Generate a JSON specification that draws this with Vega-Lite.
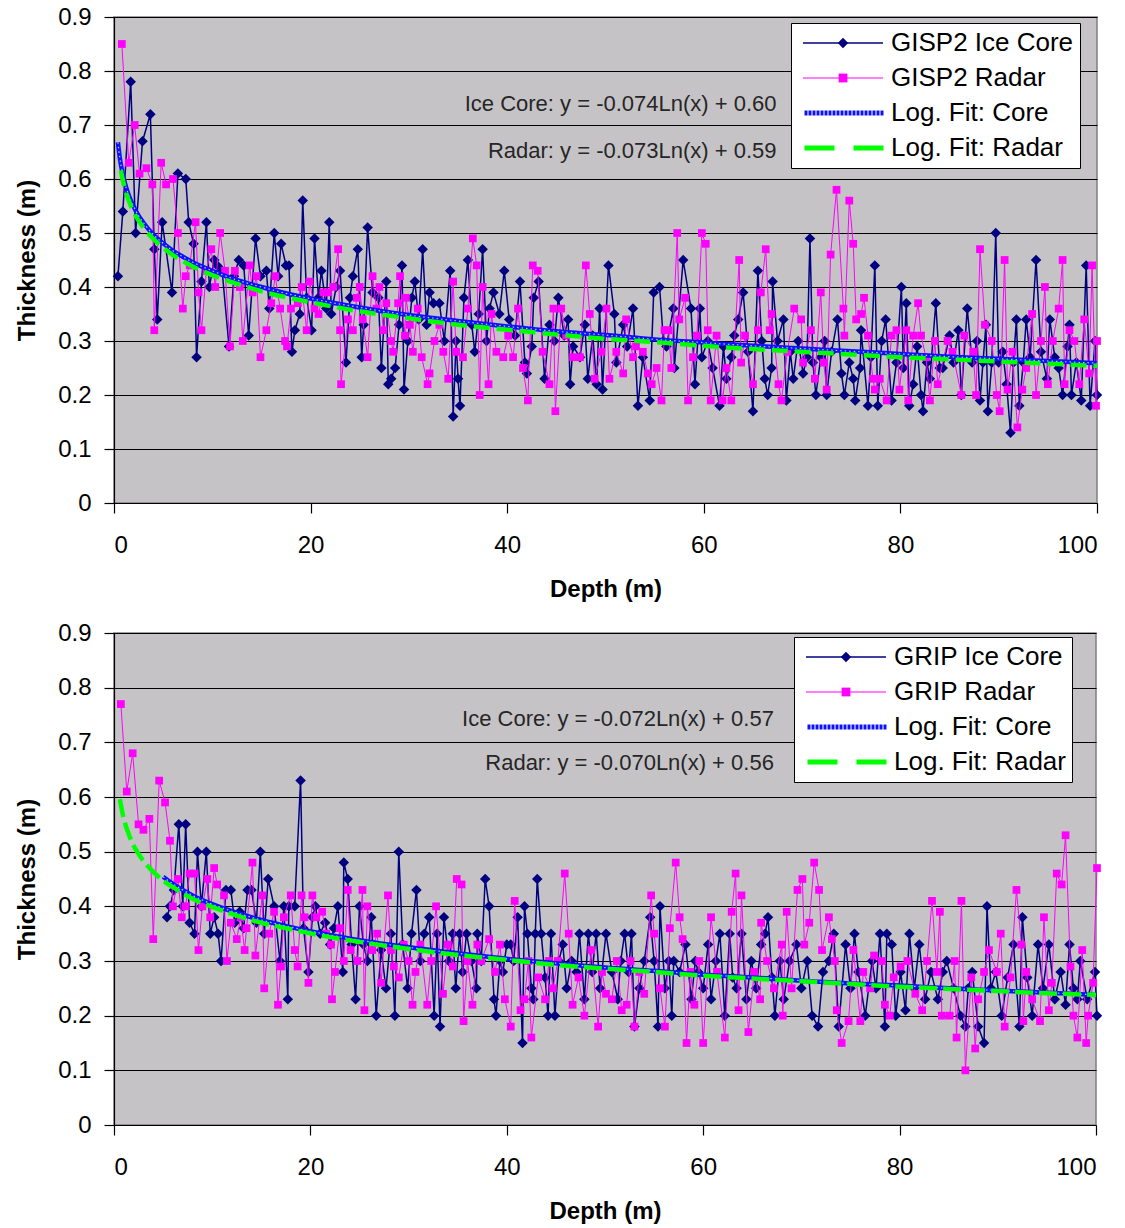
{
"$schema":"https://vega.github.io/schema/vega-lite/v6.json",
"background":"white",
"padding":{"left":14,"top":4,"right":5,"bottom":0},
"spacing":18,
"config":{
 "font":"Liberation Sans",
 "view":{"fill":"#c5c3c6","stroke":"#808080","strokeWidth":1.5},
 "axis":{"labelFont":"Liberation Sans","labelFontSize":24,"labelColor":"#000","titleFont":"Liberation Sans","titleFontSize":24,"titleFontWeight":"bold","titleColor":"#000","tickColor":"#000","tickSize":10,"tickWidth":1.2,"domainColor":"#000","domainWidth":1.2},
 "axisX":{"labelPadding":20,"titlePadding":20,"grid":false},
 "axisY":{"labelPadding":13,"titlePadding":18,"grid":true,"gridColor":"#000","gridOpacity":1,"gridWidth":1.2}
},
"datasets":{
"gIce":[{"x":0.4,"y":0.42},{"x":0.9,"y":0.54},{"x":1.7,"y":0.78},{"x":2.2,"y":0.50},{"x":2.9,"y":0.67},{"x":3.7,"y":0.72},{"x":4.1,"y":0.47},{"x":4.4,"y":0.34},{"x":4.9,"y":0.52},{"x":5.9,"y":0.39},{"x":6.5,"y":0.61},{"x":7.3,"y":0.60},{"x":7.6,"y":0.52},{"x":8.1,"y":0.48},{"x":8.4,"y":0.27},{"x":8.9,"y":0.41},{"x":9.4,"y":0.52},{"x":9.7,"y":0.40},{"x":10.2,"y":0.45},{"x":10.5,"y":0.44},{"x":11.0,"y":0.43},{"x":11.7,"y":0.29},{"x":12.2,"y":0.42},{"x":12.7,"y":0.45},{"x":13.2,"y":0.44},{"x":13.7,"y":0.31},{"x":14.4,"y":0.49},{"x":14.9,"y":0.42},{"x":15.5,"y":0.43},{"x":15.8,"y":0.36},{"x":16.3,"y":0.50},{"x":16.7,"y":0.42},{"x":17.0,"y":0.48},{"x":17.5,"y":0.44},{"x":17.8,"y":0.44},{"x":18.1,"y":0.28},{"x":18.4,"y":0.32},{"x":18.9,"y":0.35},{"x":19.2,"y":0.56},{"x":19.6,"y":0.38},{"x":20.1,"y":0.32},{"x":20.4,"y":0.49},{"x":20.8,"y":0.38},{"x":21.1,"y":0.43},{"x":21.6,"y":0.36},{"x":21.9,"y":0.52},{"x":22.1,"y":0.35},{"x":22.6,"y":0.40},{"x":23.0,"y":0.43},{"x":23.6,"y":0.26},{"x":24.0,"y":0.38},{"x":24.3,"y":0.42},{"x":24.8,"y":0.47},{"x":25.2,"y":0.27},{"x":25.4,"y":0.33},{"x":25.8,"y":0.51},{"x":26.3,"y":0.39},{"x":26.9,"y":0.38},{"x":27.2,"y":0.25},{"x":27.7,"y":0.41},{"x":27.9,"y":0.22},{"x":28.2,"y":0.23},{"x":28.6,"y":0.25},{"x":29.0,"y":0.33},{"x":29.3,"y":0.44},{"x":29.5,"y":0.21},{"x":29.9,"y":0.30},{"x":30.3,"y":0.38},{"x":30.6,"y":0.41},{"x":31.0,"y":0.34},{"x":31.4,"y":0.47},{"x":31.8,"y":0.33},{"x":32.1,"y":0.39},{"x":32.5,"y":0.37},{"x":33.1,"y":0.37},{"x":33.6,"y":0.30},{"x":34.2,"y":0.43},{"x":34.5,"y":0.16},{"x":34.8,"y":0.30},{"x":35.0,"y":0.23},{"x":35.2,"y":0.18},{"x":35.6,"y":0.38},{"x":36.0,"y":0.45},{"x":36.4,"y":0.33},{"x":36.7,"y":0.28},{"x":37.1,"y":0.35},{"x":37.5,"y":0.47},{"x":37.9,"y":0.30},{"x":38.2,"y":0.36},{"x":38.6,"y":0.39},{"x":39.2,"y":0.35},{"x":39.7,"y":0.43},{"x":40.2,"y":0.34},{"x":40.8,"y":0.31},{"x":41.3,"y":0.41},{"x":41.8,"y":0.26},{"x":42.0,"y":0.24},{"x":42.5,"y":0.29},{"x":42.7,"y":0.38},{"x":43.2,"y":0.41},{"x":43.8,"y":0.23},{"x":44.3,"y":0.33},{"x":44.8,"y":0.30},{"x":45.2,"y":0.38},{"x":45.8,"y":0.31},{"x":46.2,"y":0.34},{"x":46.4,"y":0.22},{"x":46.7,"y":0.29},{"x":47.4,"y":0.27},{"x":47.9,"y":0.33},{"x":48.2,"y":0.23},{"x":48.7,"y":0.31},{"x":49.1,"y":0.22},{"x":49.4,"y":0.36},{"x":49.7,"y":0.21},{"x":50.3,"y":0.44},{"x":50.9,"y":0.35},{"x":51.1,"y":0.26},{"x":51.8,"y":0.33},{"x":52.2,"y":0.29},{"x":52.8,"y":0.36},{"x":53.3,"y":0.18},{"x":53.8,"y":0.27},{"x":54.5,"y":0.19},{"x":54.9,"y":0.39},{"x":55.5,"y":0.40},{"x":55.9,"y":0.30},{"x":56.2,"y":0.29},{"x":56.9,"y":0.36},{"x":57.0,"y":0.25},{"x":57.9,"y":0.45},{"x":58.7,"y":0.36},{"x":59.1,"y":0.22},{"x":59.6,"y":0.36},{"x":59.8,"y":0.27},{"x":60.4,"y":0.30},{"x":60.9,"y":0.25},{"x":61.6,"y":0.18},{"x":62.0,"y":0.29},{"x":62.3,"y":0.23},{"x":62.8,"y":0.27},{"x":63.1,"y":0.31},{"x":63.5,"y":0.34},{"x":64.0,"y":0.39},{"x":64.5,"y":0.28},{"x":65.0,"y":0.17},{"x":65.5,"y":0.43},{"x":65.9,"y":0.30},{"x":66.2,"y":0.23},{"x":66.5,"y":0.20},{"x":66.9,"y":0.25},{"x":67.0,"y":0.41},{"x":67.5,"y":0.30},{"x":68.1,"y":0.34},{"x":68.4,"y":0.19},{"x":68.8,"y":0.28},{"x":69.1,"y":0.23},{"x":69.6,"y":0.30},{"x":70.1,"y":0.24},{"x":70.5,"y":0.27},{"x":70.8,"y":0.49},{"x":71.1,"y":0.26},{"x":71.4,"y":0.20},{"x":71.9,"y":0.27},{"x":72.3,"y":0.30},{"x":72.5,"y":0.20},{"x":73.0,"y":0.28},{"x":73.6,"y":0.34},{"x":74.0,"y":0.24},{"x":74.3,"y":0.20},{"x":74.8,"y":0.26},{"x":75.2,"y":0.23},{"x":75.4,"y":0.19},{"x":75.9,"y":0.25},{"x":76.0,"y":0.32},{"x":76.7,"y":0.18},{"x":77.0,"y":0.27},{"x":77.4,"y":0.44},{"x":77.7,"y":0.18},{"x":78.1,"y":0.30},{"x":78.5,"y":0.34},{"x":79.1,"y":0.19},{"x":79.6,"y":0.26},{"x":80.1,"y":0.40},{"x":80.3,"y":0.25},{"x":80.6,"y":0.37},{"x":80.9,"y":0.18},{"x":81.3,"y":0.22},{"x":81.7,"y":0.29},{"x":82.1,"y":0.20},{"x":82.3,"y":0.17},{"x":82.7,"y":0.26},{"x":83.0,"y":0.23},{"x":83.6,"y":0.37},{"x":84.0,"y":0.25},{"x":84.3,"y":0.25},{"x":85.0,"y":0.31},{"x":85.4,"y":0.26},{"x":85.9,"y":0.32},{"x":86.2,"y":0.20},{"x":86.8,"y":0.36},{"x":87.3,"y":0.26},{"x":87.8,"y":0.30},{"x":88.1,"y":0.19},{"x":88.4,"y":0.26},{"x":88.7,"y":0.33},{"x":88.9,"y":0.17},{"x":89.3,"y":0.26},{"x":89.7,"y":0.50},{"x":90.0,"y":0.26},{"x":90.4,"y":0.28},{"x":90.8,"y":0.22},{"x":91.2,"y":0.13},{"x":91.5,"y":0.26},{"x":91.8,"y":0.34},{"x":92.1,"y":0.18},{"x":92.5,"y":0.26},{"x":92.8,"y":0.34},{"x":93.2,"y":0.27},{"x":93.8,"y":0.45},{"x":94.3,"y":0.28},{"x":94.9,"y":0.23},{"x":95.2,"y":0.34},{"x":95.7,"y":0.27},{"x":96.1,"y":0.25},{"x":96.5,"y":0.20},{"x":97.0,"y":0.29},{"x":97.2,"y":0.33},{"x":97.4,"y":0.20},{"x":97.9,"y":0.26},{"x":98.4,"y":0.19},{"x":98.9,"y":0.44},{"x":99.3,"y":0.18},{"x":99.8,"y":0.30},{"x":100.0,"y":0.20}],
"gRad":[{"x":0.8,"y":0.85},{"x":1.5,"y":0.63},{"x":2.1,"y":0.70},{"x":2.6,"y":0.61},{"x":3.3,"y":0.62},{"x":3.9,"y":0.59},{"x":4.1,"y":0.32},{"x":4.8,"y":0.63},{"x":5.3,"y":0.59},{"x":6.0,"y":0.60},{"x":6.5,"y":0.50},{"x":7.0,"y":0.36},{"x":7.3,"y":0.42},{"x":7.7,"y":0.44},{"x":8.3,"y":0.52},{"x":8.6,"y":0.39},{"x":8.9,"y":0.32},{"x":9.4,"y":0.43},{"x":9.9,"y":0.47},{"x":10.3,"y":0.40},{"x":10.8,"y":0.50},{"x":11.3,"y":0.43},{"x":11.8,"y":0.29},{"x":12.3,"y":0.43},{"x":12.8,"y":0.40},{"x":13.1,"y":0.30},{"x":13.8,"y":0.44},{"x":14.1,"y":0.39},{"x":14.5,"y":0.42},{"x":14.9,"y":0.27},{"x":15.5,"y":0.32},{"x":16.0,"y":0.37},{"x":16.4,"y":0.42},{"x":16.9,"y":0.36},{"x":17.4,"y":0.30},{"x":17.6,"y":0.29},{"x":18.0,"y":0.36},{"x":18.7,"y":0.37},{"x":19.1,"y":0.40},{"x":19.6,"y":0.32},{"x":19.9,"y":0.41},{"x":20.4,"y":0.36},{"x":20.8,"y":0.35},{"x":21.3,"y":0.39},{"x":21.8,"y":0.39},{"x":22.3,"y":0.40},{"x":22.8,"y":0.47},{"x":23.0,"y":0.32},{"x":23.1,"y":0.22},{"x":23.8,"y":0.34},{"x":24.3,"y":0.32},{"x":24.7,"y":0.38},{"x":25.0,"y":0.40},{"x":25.3,"y":0.34},{"x":25.8,"y":0.27},{"x":26.3,"y":0.42},{"x":26.7,"y":0.36},{"x":27.0,"y":0.40},{"x":27.4,"y":0.32},{"x":27.7,"y":0.37},{"x":28.2,"y":0.30},{"x":28.4,"y":0.28},{"x":28.9,"y":0.37},{"x":29.1,"y":0.42},{"x":29.6,"y":0.31},{"x":29.7,"y":0.38},{"x":30.1,"y":0.33},{"x":30.4,"y":0.28},{"x":30.9,"y":0.36},{"x":31.3,"y":0.27},{"x":31.9,"y":0.22},{"x":32.1,"y":0.24},{"x":32.6,"y":0.30},{"x":33.1,"y":0.33},{"x":33.5,"y":0.28},{"x":34.0,"y":0.23},{"x":34.5,"y":0.41},{"x":34.8,"y":0.28},{"x":35.5,"y":0.27},{"x":36.0,"y":0.36},{"x":36.5,"y":0.49},{"x":36.9,"y":0.44},{"x":37.2,"y":0.20},{"x":37.5,"y":0.40},{"x":38.1,"y":0.22},{"x":38.4,"y":0.35},{"x":38.9,"y":0.28},{"x":39.6,"y":0.27},{"x":40.1,"y":0.31},{"x":40.6,"y":0.27},{"x":41.1,"y":0.36},{"x":41.6,"y":0.25},{"x":42.1,"y":0.19},{"x":42.6,"y":0.44},{"x":43.1,"y":0.43},{"x":43.6,"y":0.28},{"x":44.3,"y":0.22},{"x":44.7,"y":0.36},{"x":44.9,"y":0.17},{"x":45.5,"y":0.36},{"x":46.0,"y":0.31},{"x":46.7,"y":0.27},{"x":47.4,"y":0.27},{"x":48.0,"y":0.44},{"x":48.4,"y":0.35},{"x":48.9,"y":0.23},{"x":49.6,"y":0.28},{"x":50.1,"y":0.36},{"x":50.4,"y":0.23},{"x":51.1,"y":0.28},{"x":51.8,"y":0.24},{"x":52.1,"y":0.34},{"x":52.8,"y":0.27},{"x":53.1,"y":0.29},{"x":53.8,"y":0.28},{"x":54.3,"y":0.24},{"x":54.7,"y":0.22},{"x":55.2,"y":0.25},{"x":55.7,"y":0.19},{"x":56.0,"y":0.32},{"x":56.4,"y":0.32},{"x":56.7,"y":0.25},{"x":57.3,"y":0.50},{"x":57.5,"y":0.34},{"x":58.1,"y":0.38},{"x":58.4,"y":0.19},{"x":58.9,"y":0.27},{"x":59.3,"y":0.31},{"x":59.8,"y":0.50},{"x":60.2,"y":0.48},{"x":60.4,"y":0.32},{"x":60.7,"y":0.19},{"x":61.3,"y":0.31},{"x":61.9,"y":0.19},{"x":62.3,"y":0.25},{"x":62.8,"y":0.19},{"x":63.6,"y":0.45},{"x":63.8,"y":0.26},{"x":64.2,"y":0.31},{"x":65.0,"y":0.22},{"x":65.5,"y":0.32},{"x":65.8,"y":0.39},{"x":66.3,"y":0.47},{"x":66.7,"y":0.32},{"x":66.9,"y":0.35},{"x":67.6,"y":0.22},{"x":67.9,"y":0.19},{"x":68.5,"y":0.28},{"x":69.2,"y":0.36},{"x":69.9,"y":0.34},{"x":70.1,"y":0.26},{"x":70.9,"y":0.32},{"x":71.3,"y":0.23},{"x":71.9,"y":0.39},{"x":72.2,"y":0.26},{"x":72.5,"y":0.21},{"x":72.9,"y":0.46},{"x":73.5,"y":0.58},{"x":74.2,"y":0.36},{"x":74.3,"y":0.31},{"x":74.8,"y":0.56},{"x":75.2,"y":0.48},{"x":75.5,"y":0.34},{"x":76.0,"y":0.35},{"x":76.3,"y":0.38},{"x":76.7,"y":0.31},{"x":77.2,"y":0.23},{"x":77.4,"y":0.21},{"x":77.9,"y":0.23},{"x":78.6,"y":0.19},{"x":79.1,"y":0.31},{"x":79.6,"y":0.32},{"x":79.9,"y":0.21},{"x":80.6,"y":0.32},{"x":80.8,"y":0.19},{"x":81.3,"y":0.31},{"x":81.8,"y":0.37},{"x":82.1,"y":0.31},{"x":82.6,"y":0.27},{"x":83.0,"y":0.19},{"x":83.5,"y":0.30},{"x":83.8,"y":0.22},{"x":84.8,"y":0.30},{"x":85.3,"y":0.28},{"x":86.2,"y":0.20},{"x":86.5,"y":0.31},{"x":87.4,"y":0.28},{"x":87.7,"y":0.20},{"x":88.1,"y":0.47},{"x":88.6,"y":0.33},{"x":89.3,"y":0.30},{"x":89.8,"y":0.20},{"x":90.1,"y":0.17},{"x":90.6,"y":0.45},{"x":90.9,"y":0.21},{"x":91.4,"y":0.28},{"x":91.9,"y":0.14},{"x":92.4,"y":0.21},{"x":92.8,"y":0.25},{"x":93.4,"y":0.35},{"x":93.8,"y":0.20},{"x":94.3,"y":0.30},{"x":94.7,"y":0.40},{"x":95.0,"y":0.22},{"x":95.5,"y":0.30},{"x":96.1,"y":0.36},{"x":96.5,"y":0.45},{"x":96.7,"y":0.22},{"x":97.2,"y":0.32},{"x":97.7,"y":0.30},{"x":98.2,"y":0.22},{"x":98.7,"y":0.34},{"x":99.2,"y":0.24},{"x":99.5,"y":0.44},{"x":99.9,"y":0.18},{"x":100.0,"y":0.30}],
"gCoreFit":[{"x":0.4,"y":0.668},{"x":0.6,"y":0.638},{"x":0.8,"y":0.617},{"x":1,"y":0.600},{"x":1.5,"y":0.570},{"x":2,"y":0.549},{"x":2.5,"y":0.532},{"x":3,"y":0.519},{"x":4,"y":0.497},{"x":5,"y":0.481},{"x":6,"y":0.467},{"x":7,"y":0.456},{"x":8,"y":0.446},{"x":10,"y":0.430},{"x":12,"y":0.416},{"x":15,"y":0.400},{"x":18,"y":0.386},{"x":21,"y":0.375},{"x":25,"y":0.362},{"x":30,"y":0.348},{"x":35,"y":0.337},{"x":40,"y":0.327},{"x":45,"y":0.318},{"x":50,"y":0.311},{"x":55,"y":0.303},{"x":60,"y":0.297},{"x":65,"y":0.291},{"x":70,"y":0.286},{"x":75,"y":0.281},{"x":80,"y":0.276},{"x":85,"y":0.271},{"x":90,"y":0.267},{"x":95,"y":0.263},{"x":100,"y":0.259}],
"gRadFit":[{"x":0.7,"y":0.616},{"x":0.8,"y":0.606},{"x":1,"y":0.590},{"x":1.5,"y":0.560},{"x":2,"y":0.539},{"x":2.5,"y":0.523},{"x":3,"y":0.510},{"x":4,"y":0.489},{"x":5,"y":0.473},{"x":6,"y":0.459},{"x":7,"y":0.448},{"x":8,"y":0.438},{"x":10,"y":0.422},{"x":12,"y":0.409},{"x":15,"y":0.392},{"x":18,"y":0.379},{"x":21,"y":0.368},{"x":25,"y":0.355},{"x":30,"y":0.342},{"x":35,"y":0.330},{"x":40,"y":0.321},{"x":45,"y":0.312},{"x":50,"y":0.304},{"x":55,"y":0.298},{"x":60,"y":0.291},{"x":65,"y":0.285},{"x":70,"y":0.280},{"x":75,"y":0.275},{"x":80,"y":0.270},{"x":85,"y":0.266},{"x":90,"y":0.262},{"x":95,"y":0.258},{"x":100,"y":0.254}],
"gAnno":[{"x":67.4,"y":0.738,"t":"Ice Core: y = -0.074Ln(x) + 0.60"},{"x":67.4,"y":0.651,"t":"Radar: y = -0.073Ln(x) + 0.59"}],
"rIce":[{"x":5.4,"y":0.38},{"x":5.7,"y":0.40},{"x":6.1,"y":0.43},{"x":6.6,"y":0.55},{"x":7.0,"y":0.40},{"x":7.3,"y":0.55},{"x":7.7,"y":0.37},{"x":8.2,"y":0.35},{"x":8.5,"y":0.50},{"x":8.9,"y":0.40},{"x":9.4,"y":0.50},{"x":9.8,"y":0.35},{"x":10.2,"y":0.38},{"x":10.6,"y":0.35},{"x":10.9,"y":0.30},{"x":11.4,"y":0.43},{"x":11.9,"y":0.43},{"x":12.3,"y":0.37},{"x":12.8,"y":0.39},{"x":13.2,"y":0.36},{"x":13.6,"y":0.43},{"x":14.0,"y":0.43},{"x":14.5,"y":0.37},{"x":14.9,"y":0.50},{"x":15.3,"y":0.35},{"x":15.7,"y":0.45},{"x":16.3,"y":0.40},{"x":16.9,"y":0.30},{"x":17.3,"y":0.40},{"x":17.7,"y":0.23},{"x":17.8,"y":0.40},{"x":18.4,"y":0.40},{"x":19.0,"y":0.63},{"x":19.3,"y":0.36},{"x":19.8,"y":0.28},{"x":20.2,"y":0.38},{"x":20.5,"y":0.40},{"x":21.0,"y":0.35},{"x":21.5,"y":0.37},{"x":22.0,"y":0.33},{"x":22.4,"y":0.36},{"x":22.8,"y":0.40},{"x":23.3,"y":0.28},{"x":23.4,"y":0.48},{"x":23.8,"y":0.45},{"x":24.2,"y":0.33},{"x":24.6,"y":0.23},{"x":25.0,"y":0.40},{"x":25.4,"y":0.33},{"x":25.8,"y":0.30},{"x":26.2,"y":0.38},{"x":26.7,"y":0.20},{"x":27.2,"y":0.32},{"x":27.7,"y":0.25},{"x":28.2,"y":0.35},{"x":28.6,"y":0.20},{"x":29.0,"y":0.50},{"x":29.4,"y":0.33},{"x":29.9,"y":0.25},{"x":30.3,"y":0.35},{"x":30.8,"y":0.43},{"x":31.2,"y":0.30},{"x":31.6,"y":0.35},{"x":32.1,"y":0.38},{"x":32.6,"y":0.20},{"x":32.9,"y":0.35},{"x":33.2,"y":0.18},{"x":33.6,"y":0.38},{"x":34.1,"y":0.30},{"x":34.5,"y":0.35},{"x":34.8,"y":0.25},{"x":35.2,"y":0.35},{"x":35.5,"y":0.28},{"x":35.9,"y":0.35},{"x":36.4,"y":0.30},{"x":36.9,"y":0.25},{"x":37.0,"y":0.35},{"x":37.4,"y":0.30},{"x":37.8,"y":0.45},{"x":38.2,"y":0.40},{"x":38.7,"y":0.23},{"x":38.9,"y":0.20},{"x":39.3,"y":0.30},{"x":39.6,"y":0.28},{"x":40.0,"y":0.33},{"x":40.4,"y":0.33},{"x":40.7,"y":0.30},{"x":41.1,"y":0.38},{"x":41.6,"y":0.15},{"x":41.8,"y":0.40},{"x":42.1,"y":0.35},{"x":42.5,"y":0.25},{"x":42.7,"y":0.23},{"x":42.9,"y":0.35},{"x":43.1,"y":0.45},{"x":43.5,"y":0.35},{"x":43.9,"y":0.27},{"x":44.2,"y":0.20},{"x":44.5,"y":0.35},{"x":44.9,"y":0.20},{"x":45.3,"y":0.30},{"x":45.7,"y":0.33},{"x":46.1,"y":0.25},{"x":46.6,"y":0.30},{"x":47.1,"y":0.28},{"x":47.4,"y":0.35},{"x":47.9,"y":0.23},{"x":48.3,"y":0.35},{"x":48.7,"y":0.28},{"x":49.1,"y":0.35},{"x":49.5,"y":0.25},{"x":50.1,"y":0.35},{"x":50.7,"y":0.28},{"x":51.3,"y":0.23},{"x":51.6,"y":0.30},{"x":52.0,"y":0.35},{"x":52.4,"y":0.28},{"x":52.7,"y":0.35},{"x":53.0,"y":0.18},{"x":53.5,"y":0.25},{"x":54.0,"y":0.30},{"x":54.6,"y":0.38},{"x":55.0,"y":0.30},{"x":55.4,"y":0.18},{"x":55.6,"y":0.40},{"x":56.1,"y":0.25},{"x":56.5,"y":0.30},{"x":56.8,"y":0.20},{"x":57.0,"y":0.30},{"x":57.6,"y":0.28},{"x":58.2,"y":0.33},{"x":58.8,"y":0.23},{"x":59.2,"y":0.30},{"x":59.5,"y":0.28},{"x":60.0,"y":0.25},{"x":60.5,"y":0.33},{"x":60.8,"y":0.23},{"x":61.3,"y":0.30},{"x":61.7,"y":0.35},{"x":62.2,"y":0.20},{"x":62.7,"y":0.35},{"x":63.0,"y":0.27},{"x":63.4,"y":0.25},{"x":63.9,"y":0.35},{"x":64.4,"y":0.23},{"x":64.9,"y":0.30},{"x":65.4,"y":0.25},{"x":65.9,"y":0.33},{"x":66.3,"y":0.35},{"x":66.6,"y":0.38},{"x":67.0,"y":0.27},{"x":67.3,"y":0.20},{"x":67.8,"y":0.30},{"x":68.2,"y":0.23},{"x":68.8,"y":0.30},{"x":69.5,"y":0.33},{"x":70.0,"y":0.25},{"x":70.6,"y":0.30},{"x":71.1,"y":0.20},{"x":71.7,"y":0.18},{"x":72.2,"y":0.28},{"x":72.8,"y":0.30},{"x":73.3,"y":0.35},{"x":73.8,"y":0.18},{"x":74.5,"y":0.33},{"x":75.0,"y":0.25},{"x":75.4,"y":0.35},{"x":75.8,"y":0.28},{"x":76.5,"y":0.20},{"x":77.2,"y":0.30},{"x":77.6,"y":0.25},{"x":78.0,"y":0.35},{"x":78.5,"y":0.18},{"x":78.7,"y":0.35},{"x":79.2,"y":0.33},{"x":79.6,"y":0.20},{"x":80.1,"y":0.28},{"x":80.6,"y":0.21},{"x":81.0,"y":0.35},{"x":81.5,"y":0.25},{"x":82.0,"y":0.33},{"x":82.6,"y":0.23},{"x":83.2,"y":0.28},{"x":83.9,"y":0.23},{"x":84.4,"y":0.28},{"x":84.8,"y":0.30},{"x":85.5,"y":0.25},{"x":86.2,"y":0.20},{"x":86.7,"y":0.18},{"x":87.0,"y":0.25},{"x":87.4,"y":0.28},{"x":88.0,"y":0.18},{"x":88.6,"y":0.15},{"x":88.9,"y":0.40},{"x":89.3,"y":0.25},{"x":89.8,"y":0.28},{"x":90.4,"y":0.20},{"x":91.0,"y":0.27},{"x":91.6,"y":0.33},{"x":92.2,"y":0.18},{"x":92.5,"y":0.38},{"x":93.0,"y":0.27},{"x":93.5,"y":0.20},{"x":94.1,"y":0.33},{"x":94.6,"y":0.25},{"x":95.2,"y":0.33},{"x":95.8,"y":0.23},{"x":96.4,"y":0.28},{"x":96.9,"y":0.22},{"x":97.3,"y":0.33},{"x":97.7,"y":0.25},{"x":98.1,"y":0.23},{"x":98.4,"y":0.30},{"x":99.1,"y":0.23},{"x":99.9,"y":0.28},{"x":100.1,"y":0.20}],
"rRad":[{"x":0.7,"y":0.77},{"x":1.3,"y":0.61},{"x":1.9,"y":0.68},{"x":2.5,"y":0.55},{"x":3.0,"y":0.54},{"x":3.6,"y":0.56},{"x":4.0,"y":0.34},{"x":4.6,"y":0.63},{"x":5.2,"y":0.59},{"x":5.7,"y":0.52},{"x":6.0,"y":0.40},{"x":6.5,"y":0.45},{"x":6.9,"y":0.38},{"x":7.3,"y":0.40},{"x":7.7,"y":0.46},{"x":8.2,"y":0.46},{"x":8.6,"y":0.32},{"x":9.0,"y":0.40},{"x":9.5,"y":0.45},{"x":9.8,"y":0.38},{"x":10.2,"y":0.47},{"x":10.5,"y":0.44},{"x":11.2,"y":0.42},{"x":11.5,"y":0.30},{"x":11.9,"y":0.37},{"x":12.5,"y":0.34},{"x":12.9,"y":0.38},{"x":13.3,"y":0.32},{"x":13.5,"y":0.36},{"x":14.1,"y":0.48},{"x":14.4,"y":0.31},{"x":15.1,"y":0.42},{"x":15.3,"y":0.25},{"x":15.8,"y":0.35},{"x":16.3,"y":0.39},{"x":16.7,"y":0.22},{"x":17.0,"y":0.29},{"x":17.3,"y":0.38},{"x":18.0,"y":0.42},{"x":18.4,"y":0.32},{"x":18.7,"y":0.29},{"x":19.1,"y":0.42},{"x":19.4,"y":0.38},{"x":19.8,"y":0.26},{"x":20.2,"y":0.42},{"x":20.6,"y":0.38},{"x":21.2,"y":0.39},{"x":21.6,"y":0.35},{"x":22.1,"y":0.33},{"x":22.2,"y":0.23},{"x":22.5,"y":0.28},{"x":23.0,"y":0.36},{"x":23.4,"y":0.30},{"x":23.8,"y":0.43},{"x":24.1,"y":0.32},{"x":24.8,"y":0.30},{"x":25.3,"y":0.43},{"x":25.5,"y":0.21},{"x":25.8,"y":0.40},{"x":26.3,"y":0.32},{"x":26.8,"y":0.35},{"x":27.2,"y":0.26},{"x":27.9,"y":0.42},{"x":28.2,"y":0.32},{"x":28.5,"y":0.29},{"x":29.0,"y":0.27},{"x":29.5,"y":0.33},{"x":30.0,"y":0.30},{"x":30.4,"y":0.22},{"x":30.7,"y":0.28},{"x":31.2,"y":0.33},{"x":31.9,"y":0.22},{"x":32.3,"y":0.30},{"x":32.8,"y":0.40},{"x":33.5,"y":0.24},{"x":34.0,"y":0.33},{"x":34.5,"y":0.29},{"x":34.9,"y":0.45},{"x":35.4,"y":0.44},{"x":35.6,"y":0.19},{"x":36.0,"y":0.30},{"x":36.5,"y":0.22},{"x":37.0,"y":0.33},{"x":37.4,"y":0.30},{"x":38.2,"y":0.34},{"x":38.8,"y":0.28},{"x":39.3,"y":0.33},{"x":39.8,"y":0.23},{"x":40.4,"y":0.18},{"x":40.8,"y":0.41},{"x":41.4,"y":0.21},{"x":41.8,"y":0.23},{"x":42.2,"y":0.30},{"x":42.5,"y":0.16},{"x":43.2,"y":0.27},{"x":43.9,"y":0.23},{"x":44.3,"y":0.30},{"x":44.7,"y":0.25},{"x":45.2,"y":0.30},{"x":45.9,"y":0.46},{"x":46.3,"y":0.35},{"x":46.7,"y":0.22},{"x":47.3,"y":0.27},{"x":47.9,"y":0.20},{"x":48.6,"y":0.32},{"x":49.3,"y":0.18},{"x":49.7,"y":0.28},{"x":50.1,"y":0.24},{"x":50.7,"y":0.23},{"x":51.2,"y":0.30},{"x":51.7,"y":0.21},{"x":52.2,"y":0.22},{"x":52.6,"y":0.30},{"x":53.0,"y":0.18},{"x":53.5,"y":0.28},{"x":54.0,"y":0.24},{"x":54.7,"y":0.42},{"x":55.0,"y":0.35},{"x":55.6,"y":0.25},{"x":56.1,"y":0.18},{"x":56.6,"y":0.36},{"x":57.2,"y":0.48},{"x":57.6,"y":0.38},{"x":57.9,"y":0.34},{"x":58.3,"y":0.15},{"x":58.7,"y":0.28},{"x":59.1,"y":0.22},{"x":59.6,"y":0.30},{"x":60.0,"y":0.15},{"x":60.8,"y":0.38},{"x":61.4,"y":0.28},{"x":62.2,"y":0.16},{"x":62.9,"y":0.39},{"x":63.3,"y":0.46},{"x":63.6,"y":0.21},{"x":63.9,"y":0.42},{"x":64.6,"y":0.17},{"x":65.2,"y":0.28},{"x":65.8,"y":0.23},{"x":65.9,"y":0.37},{"x":66.5,"y":0.30},{"x":67.2,"y":0.25},{"x":68.0,"y":0.33},{"x":68.1,"y":0.20},{"x":68.5,"y":0.39},{"x":69.0,"y":0.25},{"x":69.6,"y":0.43},{"x":70.1,"y":0.45},{"x":70.3,"y":0.33},{"x":70.8,"y":0.37},{"x":71.3,"y":0.48},{"x":71.8,"y":0.43},{"x":72.1,"y":0.32},{"x":72.8,"y":0.38},{"x":73.1,"y":0.34},{"x":73.4,"y":0.30},{"x":73.6,"y":0.21},{"x":74.1,"y":0.15},{"x":74.8,"y":0.19},{"x":75.3,"y":0.32},{"x":76.0,"y":0.19},{"x":76.3,"y":0.28},{"x":77.0,"y":0.25},{"x":77.4,"y":0.31},{"x":78.2,"y":0.30},{"x":78.5,"y":0.22},{"x":79.0,"y":0.20},{"x":79.4,"y":0.27},{"x":80.1,"y":0.29},{"x":80.8,"y":0.30},{"x":81.6,"y":0.24},{"x":82.3,"y":0.21},{"x":82.8,"y":0.30},{"x":83.3,"y":0.41},{"x":83.8,"y":0.28},{"x":84.1,"y":0.39},{"x":84.3,"y":0.20},{"x":85.1,"y":0.20},{"x":85.6,"y":0.30},{"x":85.8,"y":0.16},{"x":86.3,"y":0.41},{"x":86.7,"y":0.10},{"x":87.3,"y":0.27},{"x":87.7,"y":0.14},{"x":88.0,"y":0.23},{"x":88.6,"y":0.28},{"x":89.1,"y":0.32},{"x":89.9,"y":0.28},{"x":90.3,"y":0.35},{"x":90.7,"y":0.18},{"x":91.3,"y":0.27},{"x":91.9,"y":0.43},{"x":92.4,"y":0.33},{"x":92.6,"y":0.19},{"x":92.9,"y":0.28},{"x":93.5,"y":0.23},{"x":94.3,"y":0.19},{"x":94.7,"y":0.38},{"x":95.2,"y":0.21},{"x":95.5,"y":0.26},{"x":96.0,"y":0.46},{"x":96.5,"y":0.44},{"x":96.9,"y":0.53},{"x":97.4,"y":0.29},{"x":97.7,"y":0.20},{"x":98.1,"y":0.16},{"x":98.6,"y":0.32},{"x":99.0,"y":0.15},{"x":99.2,"y":0.20},{"x":99.7,"y":0.26},{"x":100.1,"y":0.47}],
"rCoreFit":[{"x":5,"y":0.454},{"x":6,"y":0.441},{"x":7,"y":0.430},{"x":8,"y":0.420},{"x":10,"y":0.404},{"x":12,"y":0.391},{"x":15,"y":0.375},{"x":18,"y":0.362},{"x":21,"y":0.351},{"x":25,"y":0.338},{"x":30,"y":0.325},{"x":35,"y":0.314},{"x":40,"y":0.304},{"x":45,"y":0.296},{"x":50,"y":0.288},{"x":55,"y":0.282},{"x":60,"y":0.275},{"x":65,"y":0.270},{"x":70,"y":0.264},{"x":75,"y":0.259},{"x":80,"y":0.255},{"x":85,"y":0.250},{"x":90,"y":0.246},{"x":95,"y":0.242},{"x":100,"y":0.238}],
"rRadFit":[{"x":0.6,"y":0.596},{"x":0.8,"y":0.576},{"x":1,"y":0.560},{"x":1.5,"y":0.532},{"x":2,"y":0.511},{"x":2.5,"y":0.496},{"x":3,"y":0.483},{"x":4,"y":0.463},{"x":5,"y":0.447},{"x":6,"y":0.435},{"x":7,"y":0.424},{"x":8,"y":0.414},{"x":10,"y":0.399},{"x":12,"y":0.386},{"x":15,"y":0.370},{"x":18,"y":0.358},{"x":21,"y":0.347},{"x":25,"y":0.335},{"x":30,"y":0.322},{"x":35,"y":0.311},{"x":40,"y":0.302},{"x":45,"y":0.293},{"x":50,"y":0.286},{"x":55,"y":0.280},{"x":60,"y":0.273},{"x":65,"y":0.268},{"x":70,"y":0.263},{"x":75,"y":0.258},{"x":80,"y":0.253},{"x":85,"y":0.249},{"x":90,"y":0.245},{"x":95,"y":0.241},{"x":100,"y":0.238}],
"rAnno":[{"x":67.2,"y":0.742,"t":"Ice Core: y = -0.072Ln(x) + 0.57"},{"x":67.2,"y":0.663,"t":"Radar: y = -0.070Ln(x) + 0.56"}]
},
"vconcat":[
{
 "width":983,"height":486,
 "encoding":{
  "x":{"field":"x","type":"quantitative","scale":{"domain":[0,100],"nice":false,"zero":false},"axis":{"values":[0,20,40,60,80,100],"title":"Depth (m)"}},
  "y":{"field":"y","type":"quantitative","scale":{"domain":[0,0.9],"nice":false},"axis":{"values":[0,0.1,0.2,0.3,0.4,0.5,0.6,0.7,0.8,0.9],"format":".1~f","title":"Thickness (m)"}}
 },
 "resolve":{"scale":{"shape":"independent"}},
 "layer":[
  {"data":{"name":"gIce"},"mark":{"type":"line","color":"#000080","strokeWidth":1.5}},
  {"data":{"name":"gIce"},"mark":{"type":"point","shape":"diamond","filled":true,"color":"#000080","opacity":1,"size":110}},
  {"data":{"name":"gRad"},"mark":{"type":"line","color":"#ff00ff","strokeWidth":1}},
  {"data":{"name":"gRad"},"mark":{"type":"point","shape":"square","filled":true,"color":"#ff00ff","opacity":1,"size":60}},
  {"data":{"name":"gCoreFit"},"mark":{"type":"line","color":"#1010ff","strokeWidth":4.5,"interpolate":"monotone"}},
  {"data":{"name":"gCoreFit"},"mark":{"type":"line","color":"#b0c8ff","strokeWidth":1.2,"strokeDash":[1.5,3],"interpolate":"monotone"}},
  {"data":{"name":"gRadFit"},"mark":{"type":"line","color":"#00ff00","strokeWidth":4.5,"strokeDash":[16,7],"interpolate":"monotone"}},
  {"data":{"name":"gAnno"},"mark":{"type":"text","align":"right","baseline":"middle","font":"Liberation Sans","fontSize":22,"color":"#262626"},"encoding":{"text":{"field":"t","type":"nominal"}}},
  {"data":{"name":"gIce"},"transform":[{"filter":"false"}],"mark":{"type":"point","filled":true,"opacity":0},
   "encoding":{"shape":{"field":"s","type":"nominal","scale":{"domain":["GISP2 Ice Core","GISP2 Radar","Log. Fit: Core","Log. Fit: Radar"],"range":["square"]},
     "legend":{"orient":"none","legendX":677,"legendY":6,"title":null,"fillColor":"white","strokeColor":"black","padding":6,"labelFont":"Liberation Sans","labelFontSize":26,"labelColor":"black","labelLimit":400,"symbolSize":6400,"symbolOpacity":0,"clipHeight":28,"rowPadding":7,"symbolOffset":5,"labelOffset":7}}}},
  {"data":{"name":"gIce"},"transform":[{"filter":"false"}],"mark":{"type":"point","filled":false,"fill":"transparent","stroke":"#000080","strokeWidth":1.4,"opacity":1},
   "encoding":{"shape":{"field":"s","type":"nominal","scale":{"domain":["GISP2 Ice Core line"],"range":["M-1,0H1"]},
     "legend":{"orient":"none","legendX":677,"legendY":6,"title":null,"padding":6,"labelExpr":"''","labelFontSize":1,"symbolSize":6400,"clipHeight":28,"symbolOffset":5,"symbolFillColor":"transparent","symbolStrokeColor":"#000080","symbolStrokeWidth":1.4,"symbolOpacity":1}}}},
  {"data":{"name":"gIce"},"transform":[{"filter":"false"}],"mark":{"type":"point","filled":true,"fill":"#000080","opacity":1},
   "encoding":{"shape":{"field":"s","type":"nominal","scale":{"domain":["GISP2 Ice Core"],"range":["M0,-0.13L0.13,0L0,0.13L-0.13,0Z"]},
     "legend":{"orient":"none","legendX":677,"legendY":6,"title":null,"padding":6,"labelExpr":"''","labelFontSize":1,"symbolSize":6400,"clipHeight":28,"symbolOffset":5,"symbolFillColor":"#000080","symbolOpacity":1}}}},
  {"data":{"name":"gIce"},"transform":[{"filter":"false"}],"mark":{"type":"point","filled":false,"fill":"transparent","stroke":"#ff00ff","strokeWidth":1.2,"opacity":1},
   "encoding":{"shape":{"field":"s","type":"nominal","scale":{"domain":["GISP2 Radar line"],"range":["M-1,0H1"]},
     "legend":{"orient":"none","legendX":677,"legendY":41,"title":null,"padding":6,"labelExpr":"''","labelFontSize":1,"symbolSize":6400,"clipHeight":28,"symbolOffset":5,"symbolFillColor":"transparent","symbolStrokeColor":"#ff00ff","symbolStrokeWidth":1.2,"symbolOpacity":1}}}},
  {"data":{"name":"gIce"},"transform":[{"filter":"false"}],"mark":{"type":"point","filled":true,"fill":"#ff00ff","opacity":1},
   "encoding":{"shape":{"field":"s","type":"nominal","scale":{"domain":["GISP2 Radar"],"range":["M-0.11,-0.11H0.11V0.11H-0.11Z"]},
     "legend":{"orient":"none","legendX":677,"legendY":41,"title":null,"padding":6,"labelExpr":"''","labelFontSize":1,"symbolSize":6400,"clipHeight":28,"symbolOffset":5,"symbolFillColor":"#ff00ff","symbolOpacity":1}}}},
  {"data":{"name":"gIce"},"transform":[{"filter":"false"}],"mark":{"type":"point","filled":false,"fill":"transparent","stroke":"#1010ff","strokeWidth":5,"strokeDash":[3,1],"opacity":1},
   "encoding":{"shape":{"field":"s","type":"nominal","scale":{"domain":["Log. Fit: Core"],"range":["M-1,0H1"]},
     "legend":{"orient":"none","legendX":677,"legendY":76,"title":null,"padding":6,"labelExpr":"''","labelFontSize":1,"symbolSize":6400,"clipHeight":28,"symbolOffset":5,"symbolFillColor":"transparent","symbolStrokeColor":"#1010ff","symbolStrokeWidth":5,"symbolDash":[3,1],"symbolOpacity":1}}}},
  {"data":{"name":"gIce"},"transform":[{"filter":"false"}],"mark":{"type":"point","filled":false,"fill":"transparent","stroke":"#00ff00","strokeWidth":5,"strokeDash":[30,19],"opacity":1},
   "encoding":{"shape":{"field":"s","type":"nominal","scale":{"domain":["Log. Fit: Radar"],"range":["M-1,0H1"]},
     "legend":{"orient":"none","legendX":677,"legendY":111,"title":null,"padding":6,"labelExpr":"''","labelFontSize":1,"symbolSize":6400,"clipHeight":28,"symbolOffset":5,"symbolFillColor":"transparent","symbolStrokeColor":"#00ff00","symbolStrokeWidth":5,"symbolDash":[30,19],"symbolOpacity":1}}}}
 ]
},
{
 "width":982,"height":492,
 "encoding":{
  "x":{"field":"x","type":"quantitative","scale":{"domain":[0,100],"nice":false,"zero":false},"axis":{"values":[0,20,40,60,80,100],"title":"Depth (m)"}},
  "y":{"field":"y","type":"quantitative","scale":{"domain":[0,0.9],"nice":false},"axis":{"values":[0,0.1,0.2,0.3,0.4,0.5,0.6,0.7,0.8,0.9],"format":".1~f","title":"Thickness (m)"}}
 },
 "resolve":{"scale":{"shape":"independent"}},
 "layer":[
  {"data":{"name":"rIce"},"mark":{"type":"line","color":"#000080","strokeWidth":1.5}},
  {"data":{"name":"rIce"},"mark":{"type":"point","shape":"diamond","filled":true,"color":"#000080","opacity":1,"size":110}},
  {"data":{"name":"rRad"},"mark":{"type":"line","color":"#ff00ff","strokeWidth":1}},
  {"data":{"name":"rRad"},"mark":{"type":"point","shape":"square","filled":true,"color":"#ff00ff","opacity":1,"size":60}},
  {"data":{"name":"rCoreFit"},"mark":{"type":"line","color":"#1010ff","strokeWidth":4.5,"interpolate":"monotone"}},
  {"data":{"name":"rCoreFit"},"mark":{"type":"line","color":"#b0c8ff","strokeWidth":1.2,"strokeDash":[1.5,3],"interpolate":"monotone"}},
  {"data":{"name":"rRadFit"},"mark":{"type":"line","color":"#00ff00","strokeWidth":4.5,"strokeDash":[18,6],"interpolate":"monotone"}},
  {"data":{"name":"rAnno"},"mark":{"type":"text","align":"right","baseline":"middle","font":"Liberation Sans","fontSize":22,"color":"#262626"},"encoding":{"text":{"field":"t","type":"nominal"}}},
  {"data":{"name":"rIce"},"transform":[{"filter":"false"}],"mark":{"type":"point","filled":true,"opacity":0},
   "encoding":{"shape":{"field":"s","type":"nominal","scale":{"domain":["GRIP Ice Core","GRIP Radar","Log. Fit: Core","Log. Fit: Radar"],"range":["square"]},
     "legend":{"orient":"none","legendX":680,"legendY":4,"title":null,"fillColor":"white","strokeColor":"black","padding":6,"labelFont":"Liberation Sans","labelFontSize":26,"labelColor":"black","labelLimit":400,"symbolSize":6400,"symbolOpacity":0,"clipHeight":28,"rowPadding":7,"symbolOffset":5,"labelOffset":7}}}},
  {"data":{"name":"rIce"},"transform":[{"filter":"false"}],"mark":{"type":"point","filled":false,"fill":"transparent","stroke":"#000080","strokeWidth":1.4,"opacity":1},
   "encoding":{"shape":{"field":"s","type":"nominal","scale":{"domain":["GRIP Ice Core line"],"range":["M-1,0H1"]},
     "legend":{"orient":"none","legendX":680,"legendY":4,"title":null,"padding":6,"labelExpr":"''","labelFontSize":1,"symbolSize":6400,"clipHeight":28,"symbolOffset":5,"symbolFillColor":"transparent","symbolStrokeColor":"#000080","symbolStrokeWidth":1.4,"symbolOpacity":1}}}},
  {"data":{"name":"rIce"},"transform":[{"filter":"false"}],"mark":{"type":"point","filled":true,"fill":"#000080","opacity":1},
   "encoding":{"shape":{"field":"s","type":"nominal","scale":{"domain":["GRIP Ice Core"],"range":["M0,-0.13L0.13,0L0,0.13L-0.13,0Z"]},
     "legend":{"orient":"none","legendX":680,"legendY":4,"title":null,"padding":6,"labelExpr":"''","labelFontSize":1,"symbolSize":6400,"clipHeight":28,"symbolOffset":5,"symbolFillColor":"#000080","symbolOpacity":1}}}},
  {"data":{"name":"rIce"},"transform":[{"filter":"false"}],"mark":{"type":"point","filled":false,"fill":"transparent","stroke":"#ff00ff","strokeWidth":1.2,"opacity":1},
   "encoding":{"shape":{"field":"s","type":"nominal","scale":{"domain":["GRIP Radar line"],"range":["M-1,0H1"]},
     "legend":{"orient":"none","legendX":680,"legendY":39,"title":null,"padding":6,"labelExpr":"''","labelFontSize":1,"symbolSize":6400,"clipHeight":28,"symbolOffset":5,"symbolFillColor":"transparent","symbolStrokeColor":"#ff00ff","symbolStrokeWidth":1.2,"symbolOpacity":1}}}},
  {"data":{"name":"rIce"},"transform":[{"filter":"false"}],"mark":{"type":"point","filled":true,"fill":"#ff00ff","opacity":1},
   "encoding":{"shape":{"field":"s","type":"nominal","scale":{"domain":["GRIP Radar"],"range":["M-0.11,-0.11H0.11V0.11H-0.11Z"]},
     "legend":{"orient":"none","legendX":680,"legendY":39,"title":null,"padding":6,"labelExpr":"''","labelFontSize":1,"symbolSize":6400,"clipHeight":28,"symbolOffset":5,"symbolFillColor":"#ff00ff","symbolOpacity":1}}}},
  {"data":{"name":"rIce"},"transform":[{"filter":"false"}],"mark":{"type":"point","filled":false,"fill":"transparent","stroke":"#1010ff","strokeWidth":5,"strokeDash":[3,1],"opacity":1},
   "encoding":{"shape":{"field":"s","type":"nominal","scale":{"domain":["Log. Fit: Core"],"range":["M-1,0H1"]},
     "legend":{"orient":"none","legendX":680,"legendY":74,"title":null,"padding":6,"labelExpr":"''","labelFontSize":1,"symbolSize":6400,"clipHeight":28,"symbolOffset":5,"symbolFillColor":"transparent","symbolStrokeColor":"#1010ff","symbolStrokeWidth":5,"symbolDash":[3,1],"symbolOpacity":1}}}},
  {"data":{"name":"rIce"},"transform":[{"filter":"false"}],"mark":{"type":"point","filled":false,"fill":"transparent","stroke":"#00ff00","strokeWidth":5,"strokeDash":[30,19],"opacity":1},
   "encoding":{"shape":{"field":"s","type":"nominal","scale":{"domain":["Log. Fit: Radar"],"range":["M-1,0H1"]},
     "legend":{"orient":"none","legendX":680,"legendY":109,"title":null,"padding":6,"labelExpr":"''","labelFontSize":1,"symbolSize":6400,"clipHeight":28,"symbolOffset":5,"symbolFillColor":"transparent","symbolStrokeColor":"#00ff00","symbolStrokeWidth":5,"symbolDash":[30,19],"symbolOpacity":1}}}}
 ]
}
],
"resolve":{"scale":{"shape":"independent"}}
}
